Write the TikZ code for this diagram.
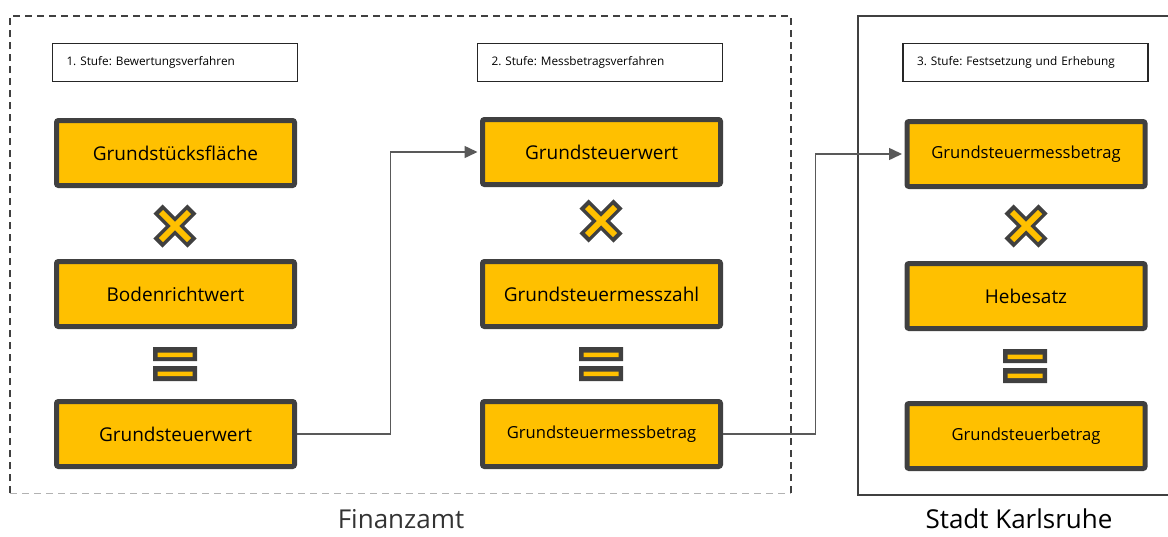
\documentclass[tikz,border=0pt]{standalone}
\usepackage{fontspec}
\setmainfont{Open Sans}
\usepackage{xcolor}
\usepackage{tikz}
\usetikzlibrary{positioning}
\usetikzlibrary{calc}
\usetikzlibrary{arrows.meta}
\frenchspacing

\begin{document}
\begin{tikzpicture}
    [%%%%%%%%%%%%%%%%%%%%%%%%%%%%%%
        x=1pt, y=-1pt,
        stufe/.style={rectangle,draw=black!85,line width=1.2pt,minimum height=38pt,
            inner xsep=14pt,text width=217pt,align=left,font=\fontsize{11.8}{14}\selectfont},
        wert/.style={rectangle,draw=dunkel,fill=gelb,line width=5pt,rounded corners=2pt,
            minimum width=238pt,minimum height=65pt,font=\fontsize{19}{23}\selectfont},
        wertklein/.style={wert,font=\fontsize{16.6}{20}\selectfont},
        pfeil/.style={draw=pfeilgrau,line width=1.5pt,-{Triangle[length=13pt,width=12pt]},shorten >=2.5pt},
        amt/.style={font=\fontsize{26}{30}\selectfont,inner sep=0pt,anchor=base}
    ]%%%%%%%%%%%%%%%%%%%%%%%%%%%%%%
\definecolor{gelb}{HTML}{FFC000}
\definecolor{dunkel}{HTML}{404040}
\definecolor{pfeilgrau}{HTML}{595959}
\useasboundingbox (0,0) rectangle (1168,536);

% Rahmen
\draw [dunkel,line width=1.5pt,dash pattern=on 7pt off 5pt] (10,493) -- (10,16) -- (791,16) -- (791,493);
\draw [black!30,line width=1pt,dash pattern=on 7pt off 5pt] (10,493) -- (791,493);
\draw [dunkel,line width=1.5pt] (1180,16) -- (858,16) -- (858,495) -- (1180,495);

% Stufen
\node[stufe] (s1) at (175,62.5) {1. Stufe: Bewertungsverfahren};
\node[stufe] (s2) at (600,62.5) {2. Stufe: Messbetragsverfahren};
\node[stufe] (s3) at (1025.5,62.5) {3. Stufe: Festsetzung und Erhebung};

\node[wert] (flaeche) at (175.5,153) {Grundstücksfläche};
\node[wert] (boden) at (175.5,294) {Bodenrichtwert};
\node[wert] (gw1) at (175.5,434) {Grundsteuerwert};

\node[wert] (gw2) at (601.5,152) {Grundsteuerwert};
\node[wert] (zahl) at (601.5,294) {Grundsteuermesszahl};
\node[wertklein] (mb1) at (601.5,434) {Grundsteuermessbetrag};

\node[wertklein] (mb2) at (1026,154) {Grundsteuermessbetrag};
\node[wert] (hebe) at (1026,296) {Hebesatz};
\node[wertklein] (betrag) at (1026,436) {Grundsteuerbetrag};

% mal und gleich
\foreach \x/\y in {175/226, 601/221, 1026/226}{
    \draw [dunkel,line width=13pt] (\x-17,\y-17) -- (\x+17,\y+17) (\x-17,\y+17) -- (\x+17,\y-17);
    \draw [gelb,line width=6pt] (\x-14,\y-14) -- (\x+14,\y+14) (\x-14,\y+14) -- (\x+14,\y-14);
}
\foreach \x/\y in {175/364, 601/364, 1025/366}{
    \fill [dunkel] (\x-22,\y-17) rectangle (\x+22,\y-3) (\x-22,\y+2) rectangle (\x+22,\y+17);
    \fill [gelb] (\x-17.5,\y-11.5) rectangle (\x+17.5,\y-7) (\x-17.5,\y+7.5) rectangle (\x+17.5,\y+12);
}

\draw [pfeil] (gw1.east) -- ++(93.5,0) |- (gw2.west);
\draw [pfeil] (mb1.east) -- ++(92.5,0) |- (mb2.west);

\node[amt,text=black!80] (finanzamt) at (401,528) {Finanzamt};
\node[amt] (stadt) at (1019,528) {Stadt Karlsruhe};

\end{tikzpicture}
\end{document}
